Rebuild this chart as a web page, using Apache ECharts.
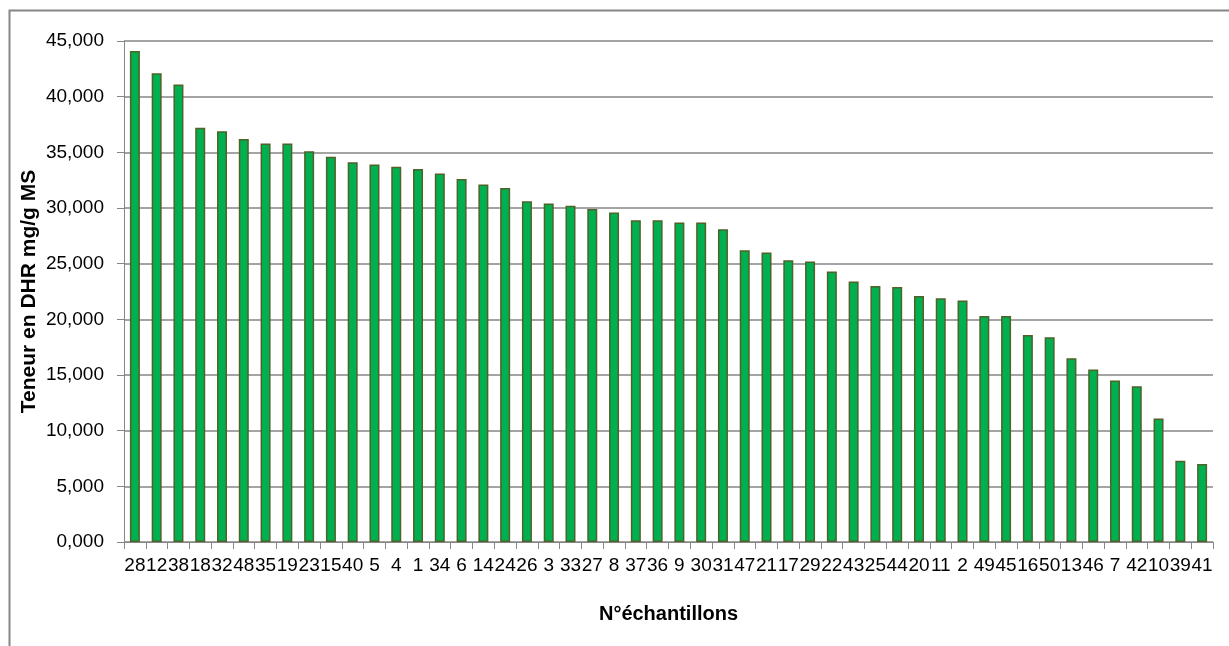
<!DOCTYPE html>
<html lang="fr">
<head>
    <meta charset="UTF-8">
    <title>Teneur en DHR</title>
    <script src="https://cdn.jsdelivr.net/npm/echarts@6/dist/echarts.min.js"></script>
    <style>
        html, body { margin: 0; padding: 0; background: #fff; }
    </style>
</head>
<body>
    <div id="main" style="width:1229px;height:646px;"></div>

    <script>
        // N° des échantillons (ordre du graphique)
        const echantillons = ['28', '12', '38', '18', '32', '48', '35', '19', '23', '15',
            '40', '5', '4', '1', '34', '6', '14', '24', '26', '3',
            '33', '27', '8', '37', '36', '9', '30', '31', '47', '21',
            '17', '29', '22', '43', '25', '44', '20', '11', '2', '49',
            '45', '16', '50', '13', '46', '7', '42', '10', '39', '41'];
        // teneur en DHR (mg/g MS)
        const teneurs = [44.1, 42.1, 41.1, 37.2, 36.9, 36.2, 35.8, 35.8, 35.1, 34.6,
            34.1, 33.9, 33.7, 33.5, 33.1, 32.6, 32.1, 31.8, 30.6, 30.4,
            30.2, 29.9, 29.6, 28.9, 28.9, 28.7, 28.7, 28.1, 26.2, 26.0,
            25.3, 25.2, 24.3, 23.4, 23.0, 22.9, 22.1, 21.9, 21.7, 20.3,
            20.3, 18.6, 18.4, 16.5, 15.5, 14.5, 14.0, 11.1, 7.3, 7.0];

        const gris = '#868686';
        const police = 'Liberation Sans';

        const option = {
            animation: false,
            backgroundColor: '#fff',
            textStyle: { fontFamily: police },
            grid: { left: 124, right: 16, top: 41, bottom: 104 },
            // cadre autour du graphique
            graphic: [{
                type: 'rect',
                left: 7, top: 8,
                shape: { width: 1221, height: 700 },
                style: { fill: 'none', stroke: gris, lineWidth: 2 },
                silent: true
            }],
            xAxis: {
                type: 'category',
                data: echantillons,
                name: 'N°échantillons',
                nameLocation: 'middle',
                nameGap: 62,
                nameMoveOverlap: false,
                nameTextStyle: { fontSize: 20, fontWeight: 'bold', color: '#000', fontFamily: police },
                axisLine: { lineStyle: { color: gris, width: 1 } },
                axisTick: { show: true, length: 7, lineStyle: { color: gris } },
                axisLabel: { interval: 0, fontSize: 19, color: '#000', margin: 14, fontFamily: police },
                splitLine: { show: false }
            },
            yAxis: {
                type: 'value',
                min: 0,
                max: 45,
                interval: 5,
                name: 'Teneur en DHR mg/g MS',
                nameLocation: 'middle',
                nameGap: 84,
                nameRotate: 90,
                nameMoveOverlap: false,
                nameTextStyle: { fontSize: 21, fontWeight: 'bold', color: '#000', fontFamily: police },
                axisLine: { show: true, lineStyle: { color: gris, width: 1 } },
                axisTick: { show: true, length: 7, lineStyle: { color: gris } },
                axisLabel: {
                    fontSize: 19, color: '#000', margin: 20, fontFamily: police,
                    formatter: function (v) { return v.toFixed(3).replace('.', ','); }
                },
                splitLine: { show: true, lineStyle: { color: gris, width: 1.5 } }
            },
            series: [{
                type: 'bar',
                data: teneurs,
                barWidth: 10,
                itemStyle: { color: '#00B050', borderColor: '#4F6228', borderWidth: 1.5 }
            }]
        };

        var myChart = echarts.init(document.getElementById('main'));
        myChart.setOption(option);
    </script>
</body>
</html>
